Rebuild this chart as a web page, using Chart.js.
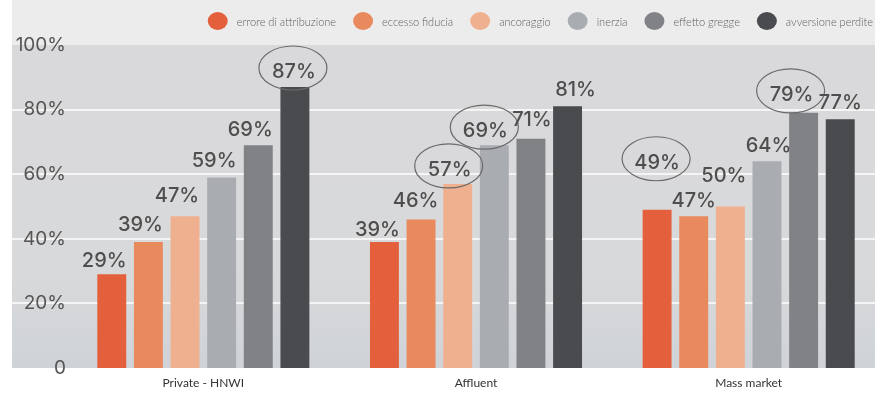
<!DOCTYPE html>
<html><head><meta charset="utf-8">
<script src="https://cdn.jsdelivr.net/npm/chart.js@4.4.0/dist/chart.umd.min.js"></script>
<style>
html,body{margin:0;padding:0;background:#fff;overflow:hidden;width:875px;height:394px}
#wrap{position:relative;width:885px;height:394px}
</style></head>
<body><div id="wrap"><canvas id="c"></canvas></div>
<script>
const categories = ['Private - HNWI', 'Affluent', 'Mass market'];
const seriesNames = ['errore di attribuzione', 'eccesso fiducia', 'ancoraggio', 'inerzia', 'effetto gregge', 'avversione perdite'];
const erroreAttribuzione = [29, 39, 49];
const eccessoFiducia = [39, 46, 47];
const ancoraggio = [47, 57, 50];
const inerzia = [59, 69, 64];
const effettoGregge = [69, 71, 79];
const avversionePerdite = [87, 81, 77];
const yTicks = [0, 20, 40, 60, 80, 100];
// circled values: [series index, category index]
const highlighted = [[5, 0], [2, 1], [3, 1], [0, 2], [4, 2]];

// styling
const colors = ['#e4603c', '#e88a5e', '#efb08f', '#a9acb0', '#818286', '#4a4b4e'];
// label nudges relative to bar [dx, gap above bar top]
const labelNudge = [
  [[-7.5, 7], [-7, 6], [0, 41]],
  [[-8, 11], [-5.5, 12], [0, 9]],
  [[-8, 14], [-8, 8], [-6.5, 25]],
  [[-7.5, 10], [-9, 8], [1.5, 9]],
  [[-8, 9], [1, 13], [-12, 12]],
  [[-1, 9], [8, 10], [0, 10]]
];
const seriesValues = [erroreAttribuzione, eccessoFiducia, ancoraggio, inerzia, effettoGregge, avversionePerdite];

const bgPlugin = {
  id: 'bg',
  beforeDraw(chart) {
    const {ctx, chartArea: {top, bottom, right}} = chart;
    const ys = chart.scales.y;
    ctx.save();
    ctx.fillStyle = '#ececec';
    ctx.fillRect(12, 0, right - 12, top);
    const g = ctx.createLinearGradient(0, top, 0, bottom);
    g.addColorStop(0, '#d9d9dc');
    g.addColorStop(0.7, '#d8d9da');
    g.addColorStop(1, '#cfd3d8');
    ctx.fillStyle = g;
    ctx.fillRect(12, top, right - 12, bottom - top);
    ctx.strokeStyle = '#f5f5f5';
    ctx.lineWidth = 2;
    yTicks.forEach(v => {
      if (v <= 0 || v >= 100) return;
      const py = Math.round(ys.getPixelForValue(v));
      ctx.beginPath(); ctx.moveTo(12, py); ctx.lineTo(right, py); ctx.stroke();
    });
    ctx.restore();
  }
};

const labelPlugin = {
  id: 'vals',
  afterDatasetsDraw(chart) {
    const ctx = chart.ctx;
    ctx.save();
    ctx.font = '500 20px Inter, "Open Sans", sans-serif';
    ctx.fillStyle = '#4e4e4e';
    ctx.textAlign = 'center';
    ctx.textBaseline = 'alphabetic';
    chart.data.datasets.forEach((ds, s) => {
      const meta = chart.getDatasetMeta(s);
      meta.data.forEach((bar, c) => {
        const [dx, dy] = labelNudge[s][c];
        const x = bar.x + dx, y = bar.y - dy;
        ctx.fillText(ds.data[c] + '%', x, y);
        if (highlighted.some(h => h[0] === s && h[1] === c)) {
          ctx.beginPath();
          ctx.strokeStyle = '#6a6a6a';
          ctx.lineWidth = 1.2;
          ctx.ellipse(x - 1, y - 10, 34, 22, 0, 0, Math.PI * 2);
          ctx.stroke();
        }
      });
    });
    ctx.restore();
  }
};

const legendPlugin = {
  id: 'customLegend',
  afterDraw(chart) {
    const ctx = chart.ctx;
    ctx.save();
    ctx.font = '300 11px Lato, sans-serif';
    const rx = 10, ry = 9, gapText = 9, gapItem = 17, endX = 873, cy = 21;
    const items = chart.data.datasets.map(d => ({text: d.label, color: d.backgroundColor, w: ctx.measureText(d.label).width}));
    let total = 0;
    items.forEach((it, i) => { total += 2 * rx + gapText + it.w + (i ? gapItem : 0); });
    let x = endX - total;
    items.forEach(it => {
      ctx.beginPath();
      ctx.fillStyle = it.color;
      ctx.ellipse(x + rx, cy, rx, ry, 0, 0, Math.PI * 2);
      ctx.fill();
      ctx.fillStyle = '#5e5e5e';
      ctx.textAlign = 'left';
      ctx.textBaseline = 'middle';
      ctx.fillText(it.text, x + 2 * rx + gapText, cy + 1);
      x += 2 * rx + gapText + it.w + gapItem;
    });
    ctx.restore();
  }
};

new Chart(document.getElementById('c'), {
  type: 'bar',
  data: {
    labels: categories,
    datasets: seriesNames.map((n, i) => ({
      label: n,
      data: seriesValues[i],
      backgroundColor: colors[i],
      borderWidth: 0,
      barPercentage: 0.79,
      categoryPercentage: 0.806
    }))
  },
  options: {
    responsive: true,
    maintainAspectRatio: false,
    animation: false,
    layout: {padding: {top: 45, left: 0, right: 0, bottom: 0}},
    plugins: {legend: {display: false}, tooltip: {enabled: false}},
    scales: {
      x: {
        afterFit(scale) { scale.height = 26; },
        grid: {display: false, drawTicks: false},
        border: {display: false},
        ticks: {padding: 8, color: '#333', font: {family: 'Lato', size: 12, weight: '400'}}
      },
      y: {
        min: 0, max: 100,
        afterFit(scale) { scale.width = 67; },
        grid: {display: false, drawTicks: false},
        border: {display: false},
        afterBuildTicks(scale) { scale.ticks = yTicks.map(v => ({value: v})); },
        ticks: {
          padding: 1,
          color: '#555',
          font: {family: 'Inter', size: 19, weight: '400'},
          callback: v => v === 0 ? '0' : v + '%'
        }
      }
    }
  },
  plugins: [bgPlugin, labelPlugin, legendPlugin]
});
</script>
</body></html>
